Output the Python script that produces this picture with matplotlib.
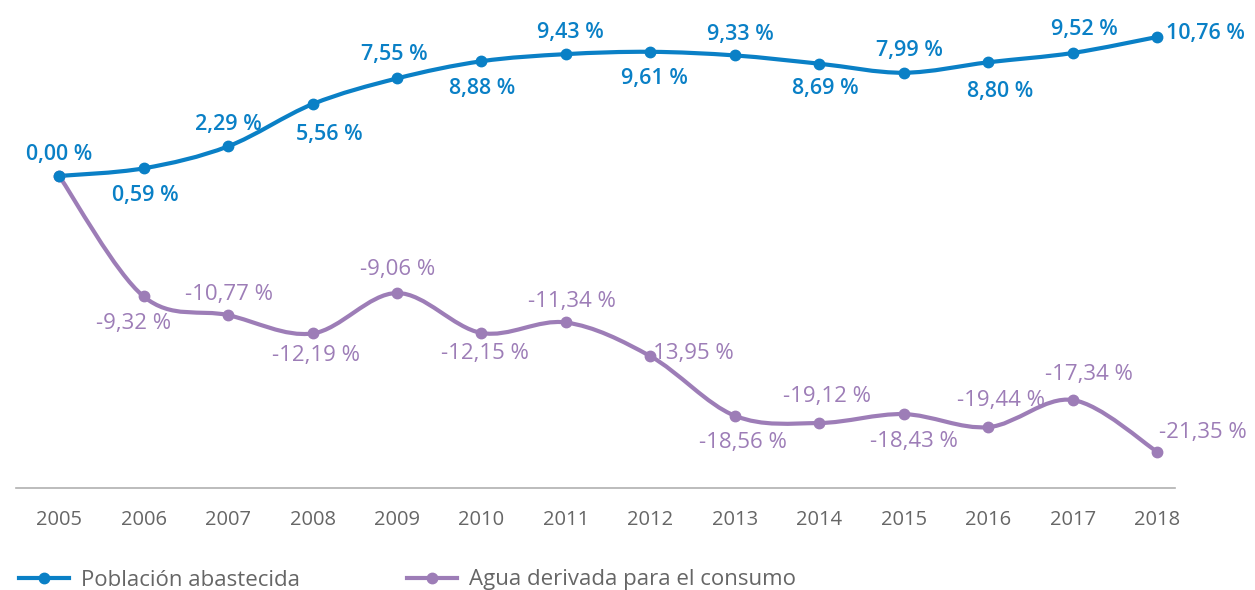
import matplotlib
matplotlib.use("Agg")
import matplotlib.pyplot as plt
from matplotlib.path import Path
from matplotlib.patches import PathPatch
from matplotlib.lines import Line2D

years = [2005, 2006, 2007, 2008, 2009, 2010, 2011, 2012, 2013, 2014, 2015, 2016, 2017, 2018]
poblacion = [0.00, 0.59, 2.29, 5.56, 7.55, 8.88, 9.43, 9.61, 9.33, 8.69, 7.99, 8.80, 9.52, 10.76]
agua = [0.00, -9.32, -10.77, -12.19, -9.06, -12.15, -11.34, -13.95, -18.56, -19.12, -18.43, -19.44, -17.34, -21.35]

# label offsets in pixels (dx, dy, ha)
pob_off = [(0, 21, "center"), (2, -27, "center"), (0, 22, "center"), (17, -30, "center"),
           (-3, 24, "center"), (1, -27, "center"), (4, 22, "center"), (4, -27, "center"),
           (5, 21, "center"), (6, -25, "center"), (6, 22, "center"), (12, -29, "center"),
           (12, 23, "center"), (9, 3, "left")]
agua_off = [(0, 0, None), (-10, -27, "center"), (1, 21, "center"), (3, -22, "center"),
            (1, 24, "center"), (3, -21, "center"), (6, 21, "center"), (-4, 3, "left"),
            (8, -27, "center"), (8, 27, "center"), (10, -27, "center"), (13, 27, "center"),
            (16, 26, "center"), (2, 19, "left")]

BLUE = "#0a80c6"
PURPLE = "#9d7db7"
GRAY = "#666666"


def fmt(v):
    return f"{v:.2f}".replace(".", ",") + " %"


def smooth_path(xs, ys, k=1 / 6):
    verts = [(xs[0], ys[0])]
    codes = [Path.MOVETO]
    n = len(xs)
    for i in range(n - 1):
        x0, y0 = (xs[i - 1], ys[i - 1]) if i > 0 else (xs[i], ys[i])
        x1, y1 = xs[i], ys[i]
        x2, y2 = xs[i + 1], ys[i + 1]
        x3, y3 = (xs[i + 2], ys[i + 2]) if i + 2 < n else (x2, y2)
        c1 = (x1 + (x2 - x0) * k, y1 + (y2 - y0) * k)
        c2 = (x2 - (x3 - x1) * k, y2 - (y3 - y1) * k)
        verts += [c1, c2, (x2, y2)]
        codes += [Path.CURVE4] * 3
    return Path(verts, codes)


plt.rcParams["font.family"] = ["Open Sans", "DejaVu Sans"]

fig = plt.figure(figsize=(12.55, 5.9), dpi=100)
ax = fig.add_axes([16 / 1255, (590 - 488) / 590, (1175 - 16) / 1255, 488 / 590])
ax.set_xlim(2004.49, 2018.21)
ax.set_ylim(-24.15, 13.62)

for vals, col in [(agua, PURPLE), (poblacion, BLUE)]:
    ax.add_patch(PathPatch(smooth_path(years, vals), fill=False, edgecolor=col, lw=3, capstyle="round"))
    ax.plot(years, vals, "o", color=col, ms=7.5, ls="none")

for x, v, (dx, dy, ha) in zip(years, poblacion, pob_off):
    ax.annotate(fmt(v), (x, v), xytext=(dx, dy), textcoords="offset pixels",
                ha=ha, va="center", color=BLUE, fontsize=15.5, fontweight="semibold")
for x, v, (dx, dy, ha) in zip(years, agua, agua_off):
    if ha is None:
        continue
    ax.annotate(fmt(v), (x, v), xytext=(dx, dy), textcoords="offset pixels",
                ha=ha, va="center", color=PURPLE, fontsize=16)

for s in ["top", "right", "left"]:
    ax.spines[s].set_visible(False)
ax.spines["bottom"].set_color("#b0b0b0")
ax.spines["bottom"].set_linewidth(1.2)
ax.set_yticks([])
ax.set_xticks(years)
ax.set_xticklabels([str(y) for y in years])
ax.tick_params(axis="x", length=0, pad=16, labelsize=14.5, labelcolor=GRAY)

handles = [
    Line2D([], [], color=BLUE, lw=3, marker="o", ms=7.5, label="Población abastecida"),
    Line2D([], [], color=PURPLE, lw=3, marker="o", ms=7.5, label="Agua derivada para el consumo"),
]
leg = fig.legend(handles=handles, loc="center left", bbox_to_anchor=(1 / 1255, 1 - 580 / 590),
                 ncol=2, frameon=False, handlelength=2.25, handletextpad=0.55,
                 columnspacing=4.8, fontsize=16, borderpad=0.3)
for t in leg.get_texts():
    t.set_color(GRAY)

fig.savefig("out.png", dpi=100)
